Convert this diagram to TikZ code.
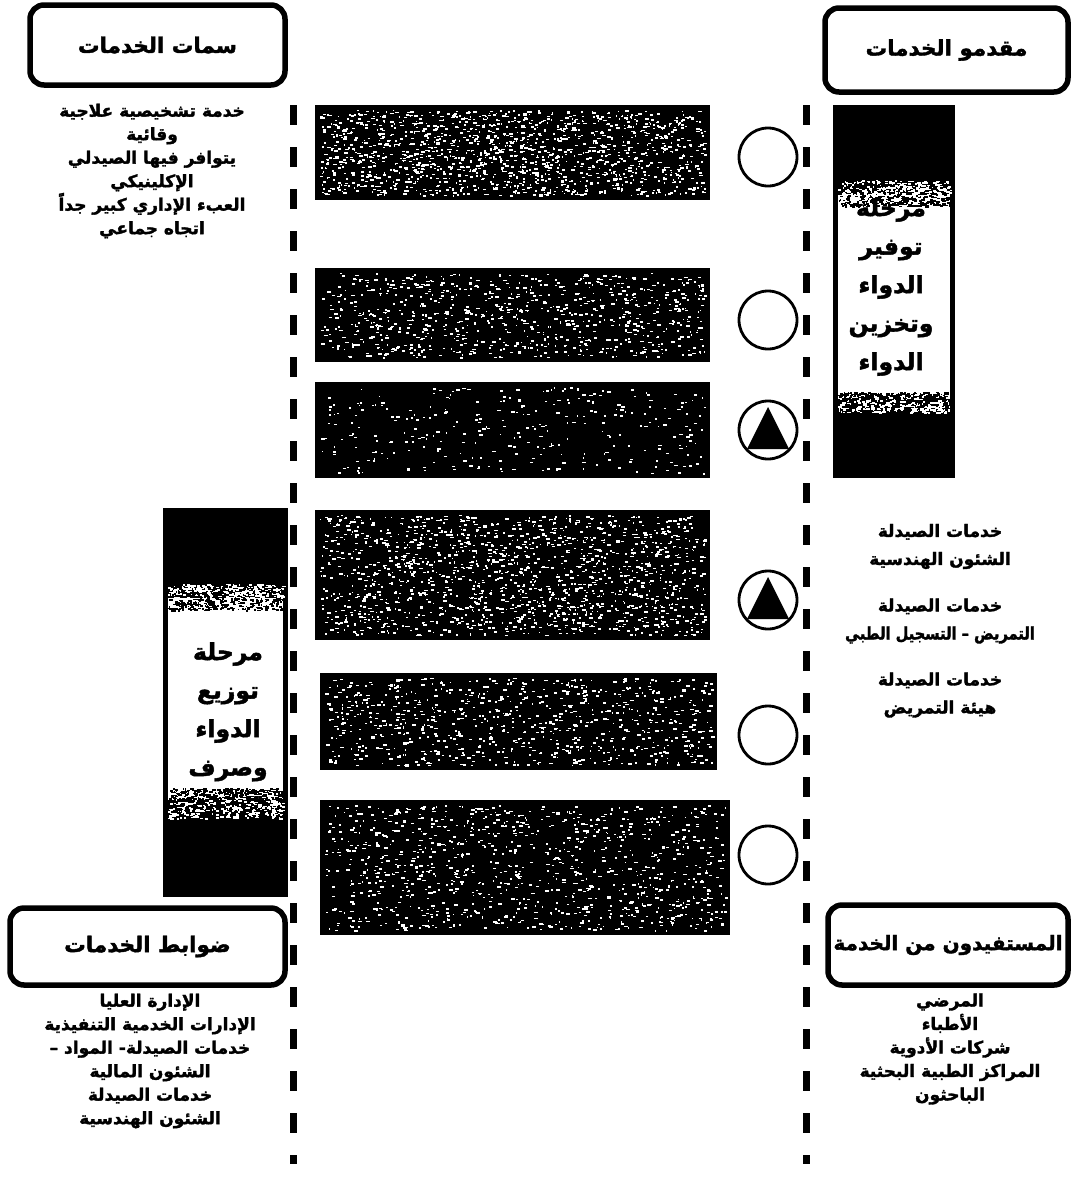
\documentclass[tikz,border=0pt]{standalone}
\usepackage{fontspec}
\usepackage{graphicx}
\newfontfamily\arabicfont[Script=Arabic,BoldFeatures={FakeBold=1.8}]{DejaVu Sans}
\TeXXeTstate=1
\usetikzlibrary{shapes.geometric}
\newcommand\ar[1]{\beginR #1\endR}
% random speckles: x1 y1 x2 y2 count colour
\newcommand\specks[6]{%
  \foreach \k in {1,...,#5}{%
    \pgfmathsetmacro\sx{#1+rnd*(#3-#1)}%
    \pgfmathsetmacro\sy{#2+rnd*(#4-#2)}%
    \pgfmathsetmacro\sw{1+3*rnd}%
    \pgfmathsetmacro\sh{1+1.2*rnd}%
    \fill[#6] (\sx,\sy) rectangle ++(\sw,\sh);
  }}
\tikzset{
  hdr/.style={draw, line width=5.5pt, rounded corners=14pt, inner sep=0pt,
    font=\arabicfont\bfseries\fontsize{21.5}{25}\selectfont},
  lst/.style={align=center, inner sep=0pt,
    font=\arabicfont\bfseries\fontsize{17}{23.5}\selectfont},
  lstb/.style={align=center, inner sep=0pt,
    font=\arabicfont\bfseries\fontsize{17}{28}\selectfont},
  stagebox/.style={fill=black, inner sep=0pt},
  phasebar/.style={fill=black, inner sep=0pt},
  phasetxt/.style={align=center, inner sep=0pt,
    font=\arabicfont\bfseries\fontsize{23.5}{38.5}\selectfont},
  circ/.style={circle, draw, line width=2.8pt, minimum size=58pt, inner sep=0pt},
  dashline/.style={line width=7pt, dash pattern=on 20pt off 22pt},
}
\begin{document}
\begin{tikzpicture}[x=1pt,y=-1pt]
\pgfmathsetseed{7}
\useasboundingbox (0,0) rectangle (1072,1179);

% header boxes
\node[hdr, minimum width=255pt, minimum height=80pt] (h1) at (157.5,45) {\ar{سمات الخدمات}};
\node[hdr, minimum width=243pt, minimum height=84pt] (h2) at (946.5,50) {\ar{مقدمو الخدمات}};
\node[hdr, minimum width=275pt, minimum height=77pt] (h3) at (147.5,946.5) {\ar{ضوابط الخدمات}};
\node[hdr, minimum width=240pt, minimum height=80pt, font=\arabicfont\bfseries\fontsize{20}{25}\selectfont] (h4) at (948,945) {\ar{المستفيدون من الخدمة}};

% text lists
\node[lst] (t1) at (152,171) {\ar{خدمة تشخيصية علاجية}\\ \ar{وقائية}\\ \ar{يتوافر فيها الصيدلي}\\ \ar{الإكلينيكي}\\ \ar{العبء الإداري كبير جداً}\\ \ar{اتجاه جماعي}};
\node[lstb] (t2) at (940,546.5) {\ar{خدمات الصيدلة}\\ \ar{الشئون الهندسية}};
\node[lstb] (t3) at (940,621) {\ar{خدمات الصيدلة}\\ \scalebox{0.86}[1]{\ar{التمريض – التسجيل الطبي}}};
\node[lstb] (t4) at (940,695) {\ar{خدمات الصيدلة}\\ \ar{هيئة التمريض}};
\node[lst] (t5) at (150,1061) {\ar{الإدارة العليا}\\ \ar{الإدارات الخدمية التنفيذية}\\ \ar{خدمات الصيدلة- المواد –}\\ \ar{الشئون المالية}\\ \ar{خدمات الصيدلة}\\ \ar{الشئون الهندسية}};
\node[lst] (t6) at (950,1049) {\ar{المرضي}\\ \ar{الأطباء}\\ \ar{شركات الأدوية}\\ \ar{المراكز الطبية البحثية}\\ \ar{الباحثون}};

% dashed lines
\coordinate (lt) at (293,105);
\coordinate (lb) at (293,1164);
\coordinate (rt) at (806,105);
\coordinate (rb) at (806,1164);
\draw[dashline] (lt) -- (lb);
\draw[dashline] (rt) -- (rb);

% stage boxes with speckled texture
\node[stagebox, minimum width=395pt, minimum height=95pt] (s1) at (512.5,152.5) {};
\specks{320}{110}{705}{195}{1400}{white}
\node[stagebox, minimum width=395pt, minimum height=94pt] (s2) at (512.5,315) {};
\specks{320}{273}{705}{357}{800}{white}
\node[stagebox, minimum width=395pt, minimum height=96pt] (s3) at (512.5,430) {};
\specks{320}{387}{705}{473}{300}{white}
\node[stagebox, minimum width=395pt, minimum height=130pt] (s4) at (512.5,575) {};
\specks{320}{515}{705}{635}{1500}{white}
\node[stagebox, minimum width=397pt, minimum height=97pt] (s5) at (518.5,721.5) {};
\specks{325}{678}{712}{765}{800}{white}
\node[stagebox, minimum width=410pt, minimum height=135pt] (s6) at (525,867.5) {};
\specks{325}{805}{725}{930}{1000}{white}

% circles
\node[circ] (c1) at (768,157) {};
\node[circ] (c2) at (768,320) {};
\node[circ] (c3) at (768,430) {};
\node[circ] (c4) at (768,600) {};
\node[circ] (c5) at (768,735) {};
\node[circ] (c6) at (768,855) {};
\fill (747,449) -- (768,407) -- (789,449) -- cycle;
\fill (747,619) -- (768,577) -- (789,619) -- cycle;

% right phase bar
\node[phasebar, minimum width=122pt, minimum height=373pt] (p1) at (894,291.5) {};
\fill[white] (838,195) rectangle (950,400);
\specks{838}{180}{950}{195}{250}{white}
\node[phasetxt] (p1t) at (891,287) {\ar{مرحلة}\\ \ar{توفير}\\ \ar{الدواء}\\ \ar{وتخزين}\\ \ar{الدواء}};
\specks{838}{195}{950}{206}{250}{black}
\specks{838}{392}{950}{400}{300}{black}
\specks{838}{400}{950}{412}{200}{white}

% left phase bar
\node[phasebar, minimum width=125pt, minimum height=389pt] (p2) at (225.5,702.5) {};
\fill[white] (168,598) rectangle (283,800);
\specks{168}{584}{283}{598}{250}{white}
\node[phasetxt] (p2t) at (228,731) {\ar{مرحلة}\\ \ar{توزيع}\\ \ar{الدواء}\\ \ar{وصرف}\\ \ar{الدواء}};
\specks{168}{598}{283}{610}{250}{black}
\specks{168}{788}{283}{800}{350}{black}
\fill[black] (168,800) rectangle (283,818);
\specks{168}{800}{283}{818}{250}{white}
\end{tikzpicture}
\end{document}
